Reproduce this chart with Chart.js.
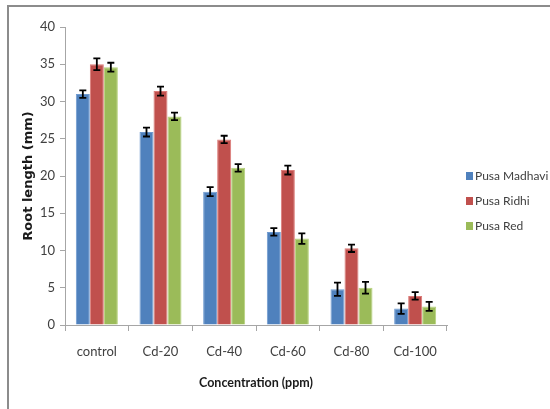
<!DOCTYPE html>
<html>
<head>
<meta charset="utf-8">
<script src="https://cdn.jsdelivr.net/npm/chart.js@4/dist/chart.umd.min.js"></script>
<style>
  html, body { margin: 0; padding: 0; background: #ffffff; }
  #wrap { width: 550px; height: 409px; position: relative; }
</style>
</head>
<body>
<div id="wrap"><canvas id="chart" width="550" height="409"></canvas></div>
<script>
// Cadmium treatments
const categories = ['control', 'Cd-20', 'Cd-40', 'Cd-60', 'Cd-80', 'Cd-100'];
const seriesNames = ['Pusa Madhavi', 'Pusa Ridhi', 'Pusa Red'];

// Mean root length (mm)
const pusaMadhavi = [31.0, 25.9, 17.9, 12.5, 4.8, 2.2];
const pusaRidhi   = [35.0, 31.4, 24.9, 20.8, 10.3, 3.9];
const pusaRed     = [34.6, 28.0, 21.1, 11.6, 5.0, 2.5];

// Standard error of each mean
const errMadhavi = [0.5, 0.6, 0.6, 0.5, 0.9, 0.7];
const errRidhi   = [0.8, 0.6, 0.5, 0.6, 0.5, 0.5];
const errRed     = [0.6, 0.5, 0.5, 0.7, 0.8, 0.6];

const yTicks = [0, 5, 10, 15, 20, 25, 30, 35, 40];

const fills   = ['#4F81BD', '#C0504D', '#9BBB59'];
const borders = ['#6f9ad0', '#dc7b78', '#b6d27c'];

const NARROW = "Lato, 'Liberation Sans', sans-serif";

const values = [pusaMadhavi, pusaRidhi, pusaRed];
const errors = [errMadhavi, errRidhi, errRed];

// Error bars drawn from each bar's value through the y scale
const errorBars = {
  id: 'errorBars',
  afterDatasetsDraw(chart) {
    const ctx = chart.ctx;
    const y = chart.scales.y;
    ctx.save();
    ctx.strokeStyle = '#000000';
    ctx.lineWidth = 1.8;
    chart.data.datasets.forEach((ds, di) => {
      const meta = chart.getDatasetMeta(di);
      meta.data.forEach((bar, i) => {
        const v = ds.data[i], e = ds.errors[i];
        const top = y.getPixelForValue(v + e);
        const bot = y.getPixelForValue(v - e);
        const x = bar.x, cap = 3.5;
        ctx.beginPath();
        ctx.moveTo(x, top); ctx.lineTo(x, bot);
        ctx.moveTo(x - cap, top); ctx.lineTo(x + cap, top);
        ctx.moveTo(x - cap, bot); ctx.lineTo(x + cap, bot);
        ctx.stroke();
      });
    });
    ctx.restore();
  }
};

// Frame lines and the series key at the right
const decorations = {
  id: 'decorations',
  beforeDraw(chart) {
    const ctx = chart.ctx;
    ctx.save();
    ctx.fillStyle = '#ffffff';
    ctx.fillRect(0, 0, chart.width, chart.height);
    ctx.strokeStyle = '#8c8c8c';
    ctx.lineWidth = 2;
    ctx.beginPath();
    ctx.moveTo(8, chart.height);
    ctx.lineTo(8, 6);
    ctx.lineTo(chart.width, 6);
    ctx.stroke();
    ctx.restore();
  },
  afterDraw(chart) {
    const ctx = chart.ctx;
    const area = chart.chartArea;
    const x0 = area.right + 19;
    const midY = (area.top + area.bottom) / 2 + 25;
    ctx.save();
    ctx.font = '12px ' + NARROW;
    ctx.textBaseline = 'middle';
    chart.data.datasets.forEach((ds, i) => {
      const cy = midY + (i - 1) * 25;
      ctx.fillStyle = ds.backgroundColor;
      ctx.fillRect(x0, cy - 4, 7, 8);
      ctx.fillStyle = '#404040';
      ctx.fillText(ds.label, x0 + 9, cy);
    });
    ctx.restore();
  }
};

new Chart(document.getElementById('chart'), {
  type: 'bar',
  data: {
    labels: categories,
    datasets: seriesNames.map((name, i) => ({
      label: name,
      data: values[i],
      errors: errors[i],
      backgroundColor: fills[i],
      borderColor: borders[i],
      borderWidth: 1,
      categoryPercentage: 0.66,
      barPercentage: 1.0
    }))
  },
  options: {
    responsive: false,
    animation: false,
    devicePixelRatio: 1,
    layout: { padding: { left: 10, top: 27, right: 103, bottom: 0 } },
    plugins: {
      legend: { display: false },
      tooltip: { enabled: false }
    },
    scales: {
      x: {
        grid: {
          display: true, drawOnChartArea: false, drawTicks: true,
          tickLength: 6, color: '#a6a6a6', offset: true
        },
        border: { display: true, color: '#a6a6a6', width: 1 },
        ticks: {
          color: '#404040', padding: 13,
          font: { family: NARROW, size: 13 }
        },
        title: {
          display: true, text: 'Concentration (ppm)', color: '#1a1a1a',
          font: { family: NARROW, size: 12.5, weight: 'bold' },
          padding: { top: 0, bottom: 19 }
        },
        afterFit(scale) { scale.height = 84; }
      },
      y: {
        min: 0, max: 40,
        afterBuildTicks(scale) { scale.ticks = yTicks.map(v => ({ value: v })); },
        grid: {
          display: true, drawOnChartArea: false, drawTicks: true,
          tickLength: 5, color: '#a6a6a6'
        },
        border: { display: true, color: '#a6a6a6', width: 1 },
        ticks: {
          color: '#404040', padding: 5,
          font: { family: NARROW, size: 13 }
        },
        title: {
          display: true, text: 'Root length (mm)', color: '#1a1a1a',
          font: { family: "'DejaVu Sans', sans-serif", size: 13, weight: 'bold' },
          padding: { top: 11, bottom: 0 }
        },
        afterFit(scale) { scale.width = 55; }
      }
    }
  },
  plugins: [errorBars, decorations]
});
</script>
</body>
</html>
